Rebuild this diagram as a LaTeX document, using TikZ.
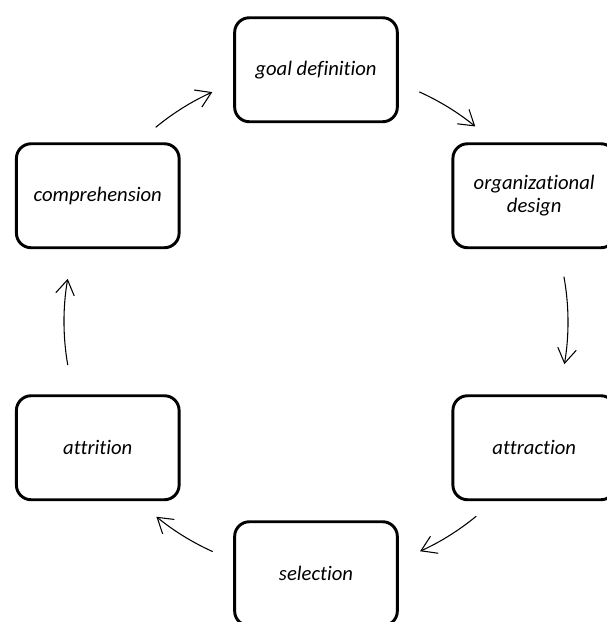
\documentclass[tikz,border=0pt]{standalone}
\usepackage{fontspec}
\setmainfont{Carlito}[Ligatures=CommonOff]
\usetikzlibrary{arrows.meta}
\tikzset{
  stage/.style={draw, line width=2.2pt, rounded corners=11pt, minimum width=122pt,
    minimum height=78pt, inner sep=0pt, align=center,
    font=\itshape\fontsize{15.5}{17.5}\selectfont},
  flow/.style={-{Straight Barb[length=11pt,width=14pt]}, line width=0.8pt},
}
\begin{document}
\begin{tikzpicture}[x=0.75pt,y=0.75pt]
\useasboundingbox (0,0) rectangle (607,622);
\coordinate (hub) at (316,300.25);
% stages round the cycle
\node[stage] (goal) at ([shift={(90:252)}]hub) {goal definition};
\node[stage] (org) at ([shift={(30:252)}]hub) {organizational\\design};
\node[stage] (attr) at ([shift={(-30:252)}]hub) {attraction};
\node[stage] (sel) at ([shift={(-90:252)}]hub) {selection};
\node[stage] (attrit) at ([shift={(-150:252)}]hub) {attrition};
\node[stage] (comp) at ([shift={(150:252)}]hub) {comprehension};
% arrows on the same circle
\coordinate (c1) at ([shift={(129.5:252)}]hub);
\coordinate (c2) at ([shift={(65.8:252)}]hub);
\coordinate (c3) at ([shift={(10.3:252)}]hub);
\coordinate (c4) at ([shift={(-50.5:252)}]hub);
\coordinate (c5) at ([shift={(-114.2:252)}]hub);
\coordinate (c6) at ([shift={(-170.1:252)}]hub);
\draw[flow] (c1) arc[start angle=129.5, end angle=114.3, radius=252];
\draw[flow] (c2) arc[start angle=65.8, end angle=50.8, radius=252];
\draw[flow] (c3) arc[start angle=10.3, end angle=-9.7, radius=252];
\draw[flow] (c4) arc[start angle=-50.5, end angle=-65.6, radius=252];
\draw[flow] (c5) arc[start angle=-114.2, end angle=-129.3, radius=252];
\draw[flow] (c6) arc[start angle=-170.1, end angle=-189.8, radius=252];
\end{tikzpicture}
\end{document}
